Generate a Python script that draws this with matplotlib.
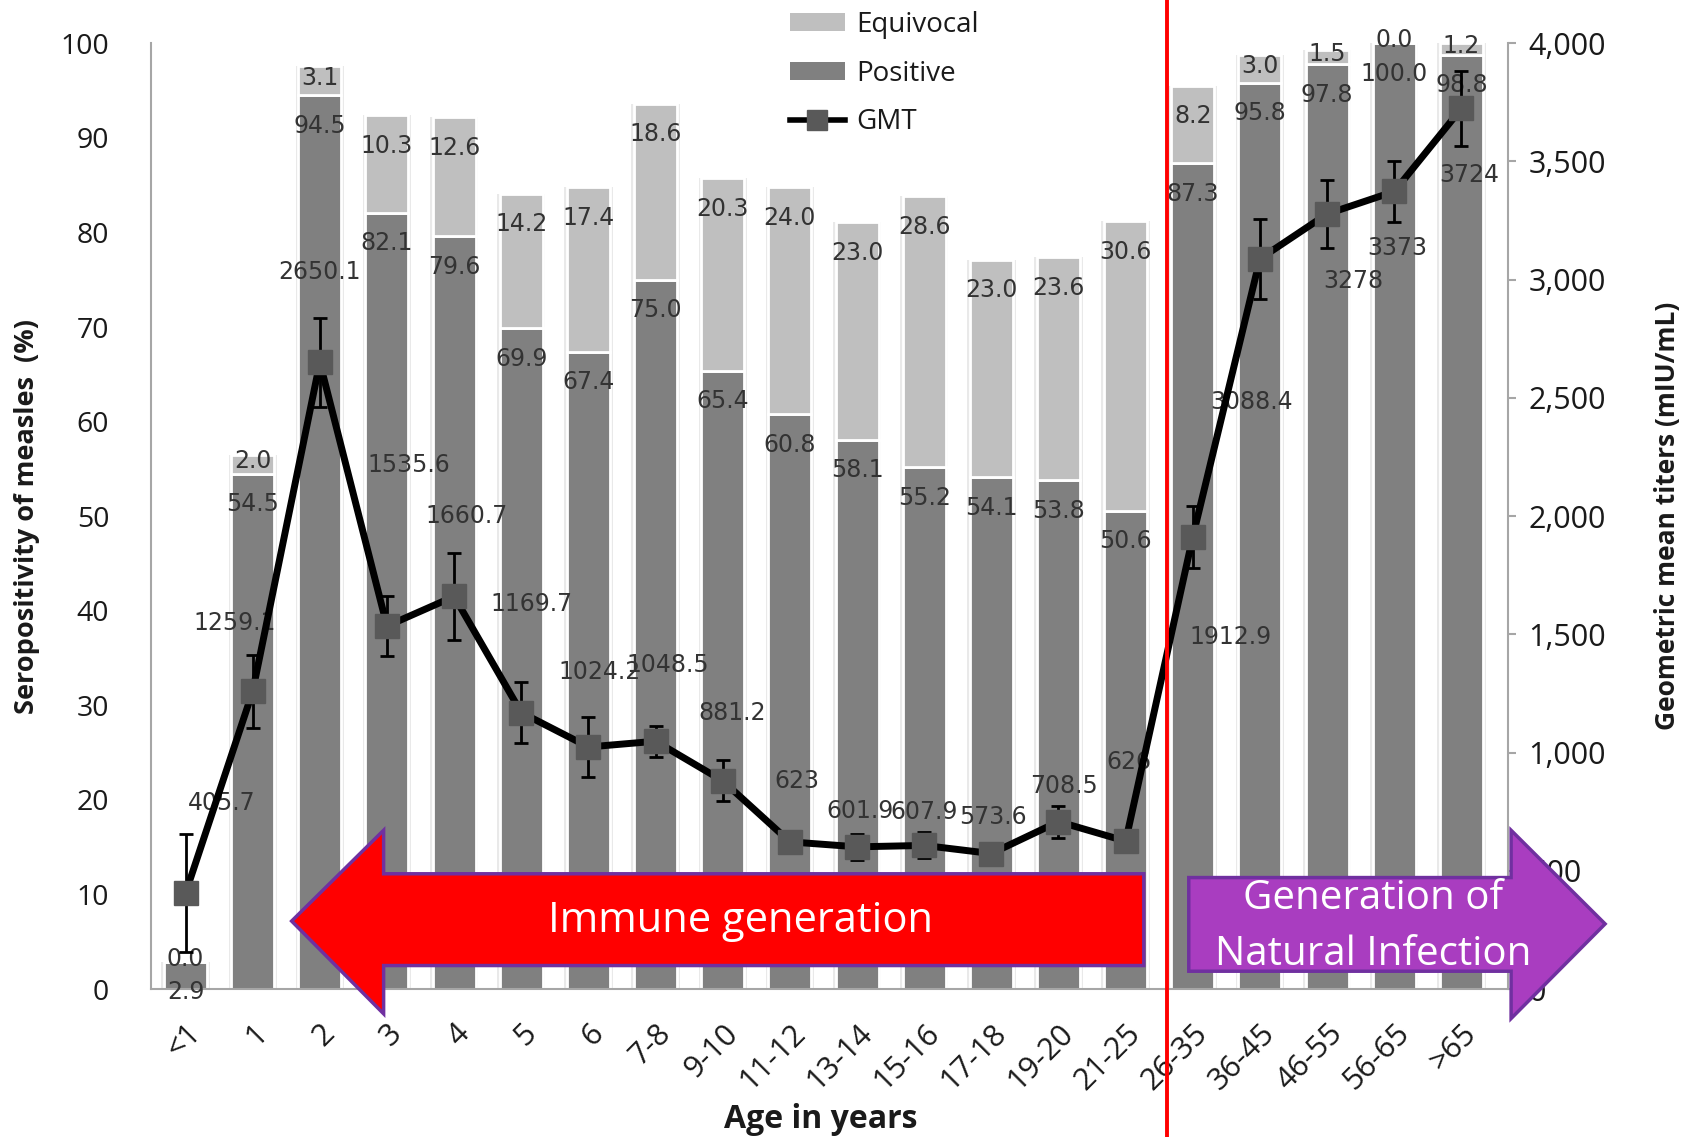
import matplotlib
matplotlib.use('Agg')
import matplotlib.pyplot as plt
import numpy as np
import matplotlib.transforms as mtransforms
from matplotlib.patches import Patch, Polygon
from matplotlib.lines import Line2D
from matplotlib.ticker import FuncFormatter

plt.rcParams['font.family'] = ['Open Sans', 'DejaVu Sans']

# data
ages = ['<1', '1', '2', '3', '4', '5', '6', '7-8', '9-10', '11-12', '13-14',
        '15-16', '17-18', '19-20', '21-25', '26-35', '36-45', '46-55', '56-65', '>65']
positive = [2.9, 54.5, 94.5, 82.1, 79.6, 69.9, 67.4, 75.0, 65.4, 60.8, 58.1,
            55.2, 54.1, 53.8, 50.6, 87.3, 95.8, 97.8, 100.0, 98.8]
equivocal = [0.0, 2.0, 3.1, 10.3, 12.6, 14.2, 17.4, 18.6, 20.3, 24.0, 23.0,
             28.6, 23.0, 23.6, 30.6, 8.2, 3.0, 1.5, 0.0, 1.2]
gmt = [405.7, 1259.1, 2650.1, 1535.6, 1660.7, 1169.7, 1024.2, 1048.5, 881.2, 623,
       601.9, 607.9, 573.6, 708.5, 626, 1912.9, 3088.4, 3278, 3373, 3724]
gmt_err = [250, 155, 187, 128, 185, 130, 125, 65, 87, 45,
           55, 55, 37, 68, 37, 130, 170, 145, 130, 160]

# where each GMT label sits relative to its marker (points)
gmt_label_offsets = [(26, 65), (-13, 49), (0, 65), (16, 116), (9, 58), (7, 78),
                     (8, 54), (9, 55), (7, 49), (5, 44), (2, 26), (0, 24),
                     (1, 26), (4, 26), (2, 57), (27, -72), (-6, -103),
                     (19, -48), (2, -41), (6, -48)]

x = np.arange(len(ages))
pos = np.array(positive)
equ = np.array(equivocal)
total = pos + equ

lab_col = '#1a1a1a'
spine_col = '#A6A6A6'

fig = plt.figure(figsize=(16.96, 11.37), dpi=100)
ax = fig.add_axes([0.089, 0.130, 0.800, 0.832])
ax2 = ax.twinx()

# bars (light halo, then positive + equivocal stacks)
ax.bar(x, total, width=0.72, color='#E9E9E9', linewidth=0, zorder=1)
ax.bar(x, pos, width=0.64, color='#808080', edgecolor='white', linewidth=2, zorder=2)
ax.bar(x, equ, bottom=pos, width=0.64, color='#BFBFBF', edgecolor='white',
       linewidth=2, zorder=2)

lbl_font = dict(family='DejaVu Sans', fontsize=17, color='#333333')
for i in range(len(ages)):
    ax.annotate(f'{positive[i]:.1f}', xy=(x[i], pos[i]), xytext=(0, -22),
                textcoords='offset points', ha='center', va='center', zorder=4, **lbl_font)
    if equivocal[i] >= 5:
        ax.annotate(f'{equivocal[i]:.1f}', xy=(x[i], total[i]), xytext=(0, -22),
                    textcoords='offset points', ha='center', va='center', zorder=4, **lbl_font)
    else:
        ax.annotate(f'{equivocal[i]:.1f}', xy=(x[i], pos[i] + equ[i] / 2), xytext=(0, 2),
                    textcoords='offset points', ha='center', va='center', zorder=4, **lbl_font)

# GMT line with error bars
ax2.errorbar(x, gmt, yerr=gmt_err, color='black', lw=5, marker='s', ms=17,
             mfc='#595959', mec='#595959', ecolor='black', elinewidth=2,
             capsize=5, capthick=2, zorder=3)
for i in range(len(ages)):
    ax2.annotate(f'{gmt[i]:g}', xy=(x[i], gmt[i]), xytext=gmt_label_offsets[i],
                 textcoords='offset points', ha='center', va='center', zorder=2, **lbl_font)

ax.set_xlim(-0.515, 19.69)
ax.set_ylim(0, 100)
ax2.set_ylim(0, 4000)

ax.set_yticks(np.arange(0, 101, 10))
ax2.set_yticks(np.arange(0, 4001, 500))
ax2.yaxis.set_major_formatter(FuncFormatter(lambda v, p: f'{v:,.0f}'))

ax.set_xticks(x)
ax.set_xticklabels(ages, rotation=45, ha='right', va='top', rotation_mode='anchor')
shift = mtransforms.ScaledTranslation(-6 / 72, 0, fig.dpi_scale_trans)
for t in ax.get_xticklabels():
    t.set_transform(t.get_transform() + shift)

for a in (ax, ax2):
    a.spines['top'].set_visible(False)
ax.spines['right'].set_visible(False)
ax2.spines['left'].set_visible(False)
ax2.spines['bottom'].set_visible(False)
ax.spines['left'].set_color(spine_col)
ax.spines['bottom'].set_color(spine_col)
ax.spines['left'].set_linewidth(1.5)
ax.spines['bottom'].set_linewidth(1.5)
ax2.spines['right'].set_color(spine_col)
ax2.spines['right'].set_linewidth(1.5)

ax.tick_params(axis='y', length=0, pad=30, labelsize=20.5, labelcolor=lab_col)
ax.tick_params(axis='x', length=0, pad=21, labelsize=22, labelcolor=lab_col)
ax2.tick_params(axis='y', length=6, width=1.5, color=spine_col, pad=9,
                labelsize=22, labelcolor=lab_col)

ax.set_ylabel('Seropositivity of measles  (%)', fontsize=19.5, fontweight='bold', color='#1a1a1a')
ax.yaxis.set_label_coords(-0.082, 0.5)
ax2.set_ylabel('Geometric mean titers (mIU/mL)', fontsize=19, fontweight='bold',
               color='#1a1a1a', rotation=90)
ax2.yaxis.set_label_coords(1.108, 0.5)
ax.set_xlabel('Age in years', fontsize=23, fontweight='bold', color='#1a1a1a')
ax.xaxis.set_label_coords(0.494, -0.120)

# legend
handles = [Patch(facecolor='#BFBFBF', edgecolor='none', label='Equivocal'),
           Patch(facecolor='#808080', edgecolor='none', label='Positive'),
           Line2D([0], [0], color='black', lw=4, marker='s', ms=14,
                  mfc='#595959', mec='#595959', label='GMT')]
leg = ax2.legend(handles=handles, loc='upper left', bbox_to_anchor=(0.464, 0.993),
                 bbox_transform=fig.transFigure, frameon=False, fontsize=20,
                 handlelength=2.0, handleheight=0.6, handletextpad=0.4,
                 labelspacing=0.75, borderaxespad=0, borderpad=0.1)
for t in leg.get_texts():
    t.set_color('#1a1a1a')

# red divider line across the whole figure
trans = mtransforms.blended_transform_factory(ax.transData, fig.transFigure)
ax2.add_line(Line2D([14.62, 14.62], [0, 1], transform=trans, color='#FF0000',
                    lw=2.8, clip_on=False, zorder=6))

# annotation arrows
red_arrow = [(1.58, 7.2), (2.95, 16.8), (2.95, 12.2), (14.27, 12.2),
             (14.27, 2.5), (2.95, 2.5), (2.95, -2.6)]
ax2.add_patch(Polygon(red_arrow, closed=True, transform=ax.transData,
                      facecolor='#FF0000', edgecolor='#7030A0', lw=2.5,
                      clip_on=False, zorder=10))
ax2.text(8.26, 7.2, 'Immune generation', transform=ax.transData, color='white',
         fontsize=30, ha='center', va='center', zorder=11)

purple_arrow = [(14.94, 11.8), (19.74, 11.8), (19.74, 16.8), (21.14, 6.9),
                (19.74, -3.1), (19.74, 1.9), (14.94, 1.9)]
ax2.add_patch(Polygon(purple_arrow, closed=True, transform=ax.transData,
                      facecolor='#A93DC0', edgecolor='#7030A0', lw=2.5,
                      clip_on=False, zorder=10))
ax2.text(17.68, 6.6, 'Generation of\nNatural Infection', transform=ax.transData,
         color='white', fontsize=29, ha='center', va='center', linespacing=1.5,
         zorder=11)

ax.set_xlim(-0.515, 19.69)
ax2.set_ylim(0, 4000)

fig.savefig('out.png', dpi=100)
